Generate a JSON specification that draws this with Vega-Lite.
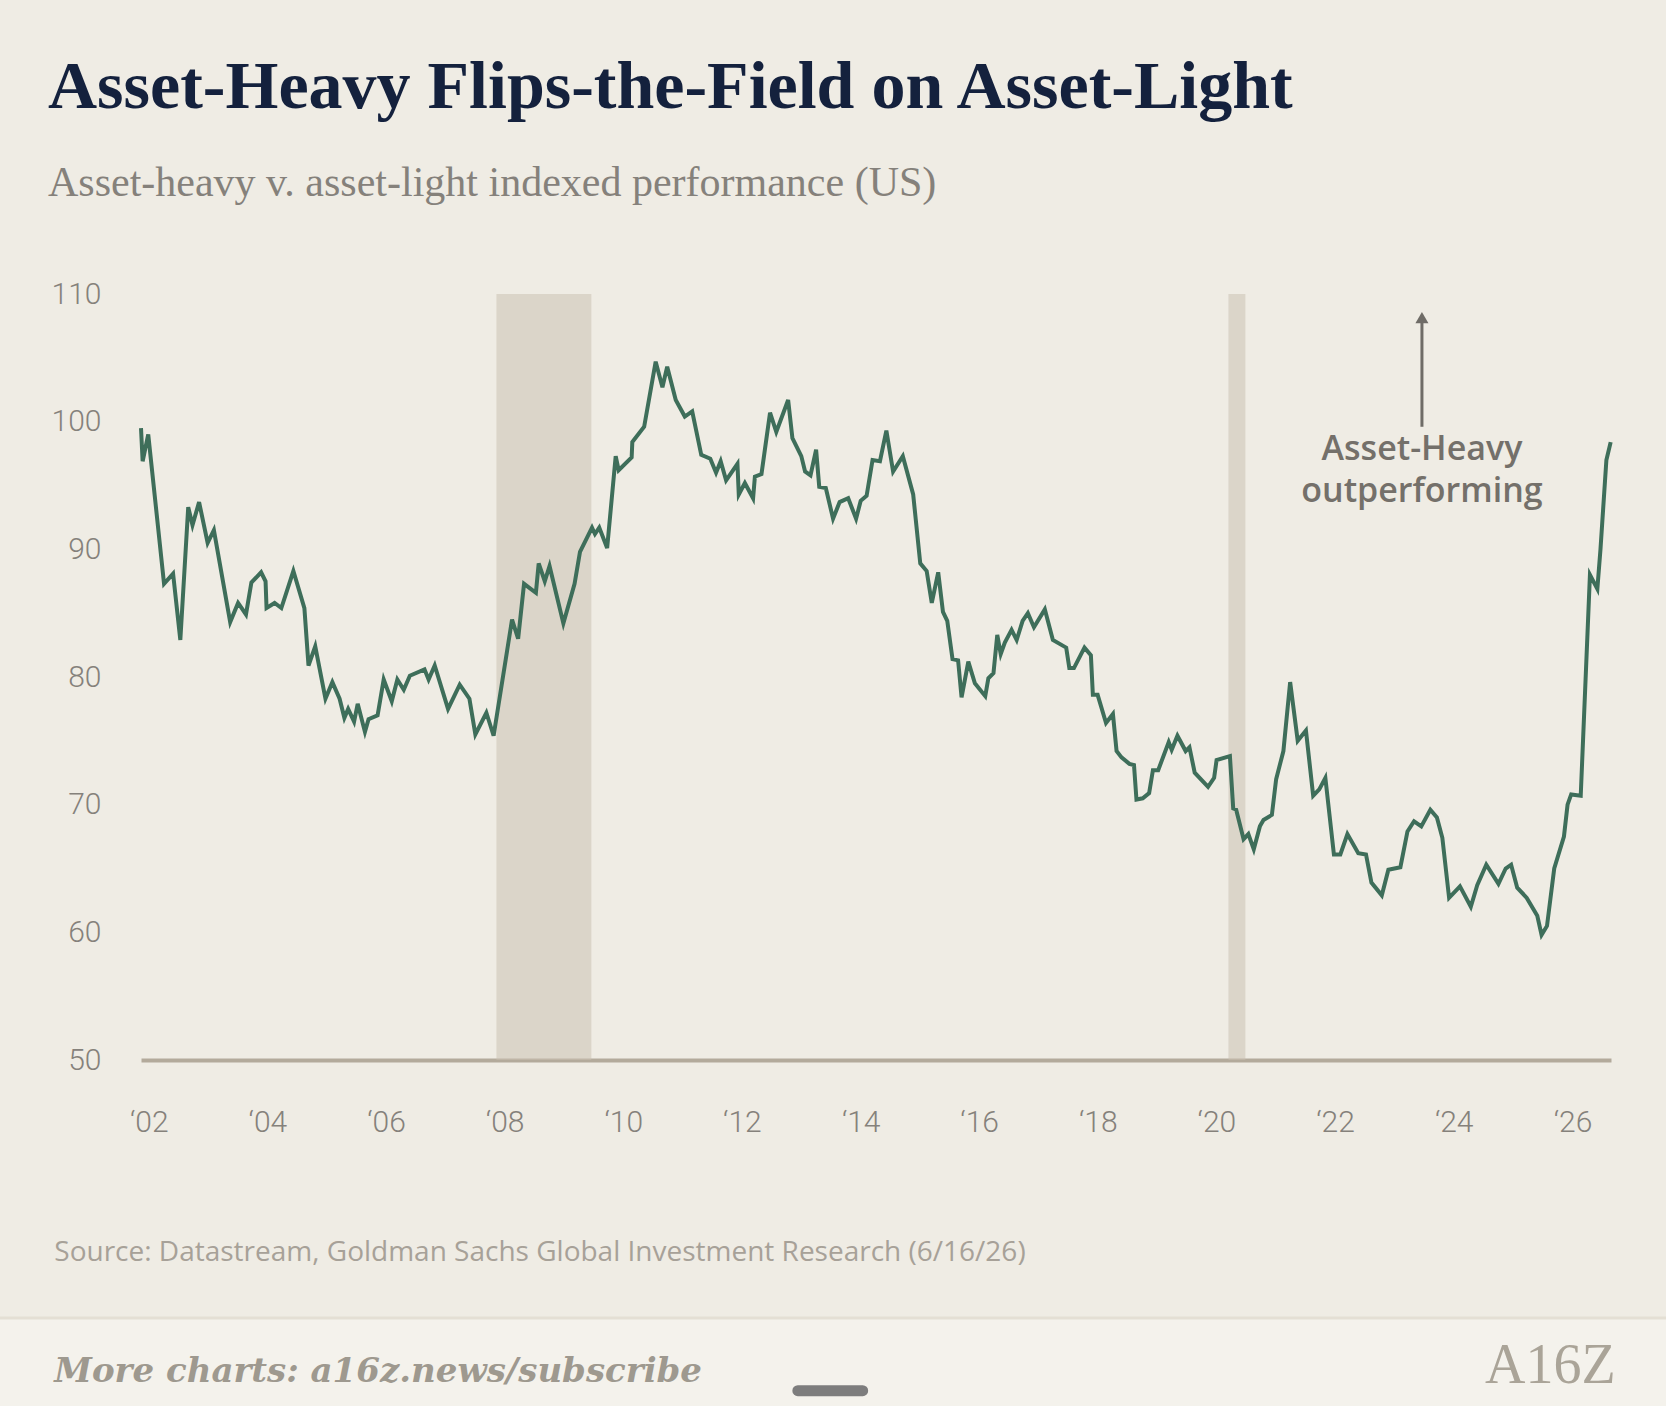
{
  "$schema": "https://vega.github.io/schema/vega-lite/v6.json",
  "description": "Asset-heavy v. asset-light indexed performance (US)",
  "width": 1470,
  "height": 766,
  "autosize": "none",
  "padding": {"left": 141, "top": 294, "right": 55, "bottom": 346},
  "background": "#efece4",
  "title": {
    "text": "Asset-Heavy Flips-the-Field on Asset-Light",
    "subtitle": "Asset-heavy v. asset-light indexed performance (US)",
    "anchor": "start",
    "frame": "group",
    "dx": -93,
    "offset": 75,
    "font": "Liberation Serif",
    "fontSize": 68,
    "fontWeight": "bold",
    "color": "#14213d",
    "subtitleFont": "Liberation Serif",
    "subtitleFontSize": 42,
    "subtitleFontWeight": "normal",
    "subtitleColor": "#85817b",
    "subtitlePadding": 41
  },
  "config": {
    "view": {"stroke": null},
    "axis": {"labelFont": "Roboto", "labelFontWeight": 300, "labelFontSize": 30, "labelColor": "#85817b"}
  },
  "datasets": {
    "series": [
      {"date": "2002-01-01", "value": 99.5},
      {"date": "2002-01-11", "value": 96.9},
      {"date": "2002-02-14", "value": 99.0},
      {"date": "2002-05-21", "value": 87.3},
      {"date": "2002-07-15", "value": 88.1},
      {"date": "2002-08-28", "value": 82.9},
      {"date": "2002-10-15", "value": 93.3},
      {"date": "2002-11-10", "value": 91.9},
      {"date": "2002-12-20", "value": 93.7},
      {"date": "2003-02-10", "value": 90.5},
      {"date": "2003-03-20", "value": 91.5},
      {"date": "2003-06-27", "value": 84.3},
      {"date": "2003-08-14", "value": 85.8},
      {"date": "2003-10-01", "value": 84.9},
      {"date": "2003-11-03", "value": 87.4},
      {"date": "2004-01-01", "value": 88.2},
      {"date": "2004-01-28", "value": 87.5},
      {"date": "2004-02-03", "value": 85.4},
      {"date": "2004-03-23", "value": 85.8},
      {"date": "2004-05-03", "value": 85.4},
      {"date": "2004-07-15", "value": 88.3},
      {"date": "2004-09-20", "value": 85.4},
      {"date": "2004-10-15", "value": 80.9},
      {"date": "2004-11-25", "value": 82.4},
      {"date": "2005-01-26", "value": 78.3},
      {"date": "2005-03-09", "value": 79.6},
      {"date": "2005-04-22", "value": 78.3},
      {"date": "2005-05-21", "value": 76.8},
      {"date": "2005-06-13", "value": 77.5},
      {"date": "2005-07-19", "value": 76.5},
      {"date": "2005-08-10", "value": 77.9},
      {"date": "2005-09-23", "value": 75.7},
      {"date": "2005-10-15", "value": 76.7},
      {"date": "2005-12-09", "value": 77.0},
      {"date": "2006-01-15", "value": 79.8},
      {"date": "2006-03-05", "value": 78.1},
      {"date": "2006-04-08", "value": 79.8},
      {"date": "2006-05-17", "value": 79.0},
      {"date": "2006-06-23", "value": 80.1},
      {"date": "2006-09-20", "value": 80.6},
      {"date": "2006-10-15", "value": 79.8},
      {"date": "2006-11-21", "value": 80.9},
      {"date": "2007-02-10", "value": 77.5},
      {"date": "2007-04-22", "value": 79.4},
      {"date": "2007-06-20", "value": 78.3},
      {"date": "2007-07-26", "value": 75.5},
      {"date": "2007-10-01", "value": 77.2},
      {"date": "2007-11-14", "value": 75.4},
      {"date": "2008-03-05", "value": 84.5},
      {"date": "2008-04-11", "value": 83.0},
      {"date": "2008-05-17", "value": 87.3},
      {"date": "2008-07-28", "value": 86.6},
      {"date": "2008-08-14", "value": 88.9},
      {"date": "2008-09-20", "value": 87.5},
      {"date": "2008-10-19", "value": 88.7},
      {"date": "2009-01-11", "value": 84.2},
      {"date": "2009-03-20", "value": 87.3},
      {"date": "2009-04-22", "value": 89.8},
      {"date": "2009-07-04", "value": 91.7},
      {"date": "2009-07-22", "value": 91.2},
      {"date": "2009-08-17", "value": 91.7},
      {"date": "2009-10-04", "value": 90.1},
      {"date": "2009-11-25", "value": 97.3},
      {"date": "2009-12-13", "value": 96.2},
      {"date": "2010-03-02", "value": 97.2},
      {"date": "2010-03-06", "value": 98.4},
      {"date": "2010-05-17", "value": 99.6},
      {"date": "2010-07-26", "value": 104.7},
      {"date": "2010-09-05", "value": 102.7},
      {"date": "2010-10-04", "value": 104.3},
      {"date": "2010-11-25", "value": 101.7},
      {"date": "2011-01-19", "value": 100.4},
      {"date": "2011-03-05", "value": 100.8},
      {"date": "2011-04-29", "value": 97.4},
      {"date": "2011-06-23", "value": 97.1},
      {"date": "2011-07-28", "value": 96.0},
      {"date": "2011-08-25", "value": 96.9},
      {"date": "2011-09-27", "value": 95.4},
      {"date": "2011-12-05", "value": 96.7},
      {"date": "2011-12-13", "value": 94.3},
      {"date": "2012-01-19", "value": 95.2},
      {"date": "2012-03-09", "value": 94.0},
      {"date": "2012-03-20", "value": 95.7},
      {"date": "2012-04-29", "value": 95.9},
      {"date": "2012-06-20", "value": 100.7},
      {"date": "2012-07-28", "value": 99.2},
      {"date": "2012-10-08", "value": 101.7},
      {"date": "2012-11-03", "value": 98.7},
      {"date": "2012-12-27", "value": 97.3},
      {"date": "2013-01-19", "value": 96.1},
      {"date": "2013-02-21", "value": 95.8},
      {"date": "2013-03-27", "value": 97.8},
      {"date": "2013-04-15", "value": 94.9},
      {"date": "2013-05-25", "value": 94.8},
      {"date": "2013-07-08", "value": 92.4},
      {"date": "2013-08-17", "value": 93.7},
      {"date": "2013-10-08", "value": 94.0},
      {"date": "2013-11-25", "value": 92.4},
      {"date": "2013-12-23", "value": 93.8},
      {"date": "2014-01-28", "value": 94.2},
      {"date": "2014-03-05", "value": 97.0},
      {"date": "2014-04-19", "value": 96.9},
      {"date": "2014-05-28", "value": 99.3},
      {"date": "2014-07-08", "value": 96.1},
      {"date": "2014-09-05", "value": 97.3},
      {"date": "2014-11-07", "value": 94.3},
      {"date": "2014-12-20", "value": 88.9},
      {"date": "2015-01-28", "value": 88.3},
      {"date": "2015-02-28", "value": 85.8},
      {"date": "2015-04-08", "value": 88.2},
      {"date": "2015-05-07", "value": 85.1},
      {"date": "2015-06-02", "value": 84.4},
      {"date": "2015-07-04", "value": 81.4},
      {"date": "2015-08-07", "value": 81.3},
      {"date": "2015-08-28", "value": 78.4},
      {"date": "2015-10-08", "value": 81.2},
      {"date": "2015-11-17", "value": 79.5},
      {"date": "2016-01-19", "value": 78.5},
      {"date": "2016-02-07", "value": 79.9},
      {"date": "2016-03-09", "value": 80.3},
      {"date": "2016-04-01", "value": 83.3},
      {"date": "2016-04-22", "value": 81.8},
      {"date": "2016-05-17", "value": 82.7},
      {"date": "2016-06-27", "value": 83.7},
      {"date": "2016-07-28", "value": 82.9},
      {"date": "2016-09-02", "value": 84.4},
      {"date": "2016-10-04", "value": 85.0},
      {"date": "2016-11-10", "value": 83.9},
      {"date": "2017-01-15", "value": 85.3},
      {"date": "2017-03-05", "value": 82.9},
      {"date": "2017-05-25", "value": 82.3},
      {"date": "2017-06-13", "value": 80.7},
      {"date": "2017-07-11", "value": 80.7},
      {"date": "2017-09-13", "value": 82.3},
      {"date": "2017-10-22", "value": 81.7},
      {"date": "2017-11-03", "value": 78.6},
      {"date": "2017-12-02", "value": 78.6},
      {"date": "2018-01-22", "value": 76.4},
      {"date": "2018-03-05", "value": 77.1},
      {"date": "2018-03-27", "value": 74.2},
      {"date": "2018-04-26", "value": 73.7},
      {"date": "2018-06-13", "value": 73.2},
      {"date": "2018-07-11", "value": 73.1},
      {"date": "2018-07-26", "value": 70.4},
      {"date": "2018-09-02", "value": 70.5},
      {"date": "2018-10-11", "value": 70.9},
      {"date": "2018-11-03", "value": 72.7},
      {"date": "2018-12-05", "value": 72.7},
      {"date": "2019-02-07", "value": 74.9},
      {"date": "2019-02-25", "value": 74.3},
      {"date": "2019-04-01", "value": 75.4},
      {"date": "2019-05-21", "value": 74.2},
      {"date": "2019-06-13", "value": 74.5},
      {"date": "2019-07-15", "value": 72.5},
      {"date": "2019-10-04", "value": 71.4},
      {"date": "2019-11-10", "value": 72.1},
      {"date": "2019-11-25", "value": 73.5},
      {"date": "2020-02-14", "value": 73.8},
      {"date": "2020-03-05", "value": 69.7},
      {"date": "2020-03-23", "value": 69.6},
      {"date": "2020-05-07", "value": 67.3},
      {"date": "2020-06-05", "value": 67.7},
      {"date": "2020-07-08", "value": 66.5},
      {"date": "2020-08-14", "value": 68.3},
      {"date": "2020-09-05", "value": 68.8},
      {"date": "2020-10-26", "value": 69.2},
      {"date": "2020-11-21", "value": 72.0},
      {"date": "2021-01-04", "value": 74.2},
      {"date": "2021-02-14", "value": 79.6},
      {"date": "2021-04-01", "value": 75.0},
      {"date": "2021-05-21", "value": 75.8},
      {"date": "2021-07-04", "value": 70.7},
      {"date": "2021-08-10", "value": 71.2},
      {"date": "2021-09-16", "value": 72.1},
      {"date": "2021-11-07", "value": 66.1},
      {"date": "2021-12-16", "value": 66.1},
      {"date": "2022-01-28", "value": 67.7},
      {"date": "2022-04-04", "value": 66.2},
      {"date": "2022-05-21", "value": 66.1},
      {"date": "2022-06-23", "value": 63.9},
      {"date": "2022-08-25", "value": 62.9},
      {"date": "2022-10-04", "value": 64.9},
      {"date": "2022-12-16", "value": 65.1},
      {"date": "2023-01-28", "value": 67.9},
      {"date": "2023-03-09", "value": 68.7},
      {"date": "2023-04-22", "value": 68.3},
      {"date": "2023-06-16", "value": 69.6},
      {"date": "2023-07-26", "value": 69.0},
      {"date": "2023-08-28", "value": 67.4},
      {"date": "2023-10-08", "value": 62.7},
      {"date": "2023-12-13", "value": 63.6},
      {"date": "2024-02-17", "value": 62.0},
      {"date": "2024-03-27", "value": 63.7},
      {"date": "2024-05-21", "value": 65.3},
      {"date": "2024-08-03", "value": 63.8},
      {"date": "2024-09-16", "value": 65.0},
      {"date": "2024-10-19", "value": 65.3},
      {"date": "2024-11-25", "value": 63.5},
      {"date": "2025-01-22", "value": 62.7},
      {"date": "2025-03-27", "value": 61.3},
      {"date": "2025-04-22", "value": 59.8},
      {"date": "2025-05-25", "value": 60.5},
      {"date": "2025-07-08", "value": 65.0},
      {"date": "2025-09-05", "value": 67.5},
      {"date": "2025-09-27", "value": 70.0},
      {"date": "2025-10-19", "value": 70.8},
      {"date": "2025-12-16", "value": 70.7},
      {"date": "2026-02-10", "value": 88.0},
      {"date": "2026-03-27", "value": 86.9},
      {"date": "2026-04-15", "value": 90.0},
      {"date": "2026-05-21", "value": 97.0},
      {"date": "2026-06-16", "value": 98.4}
    ],
    "recessions": [
      {"start": "2007-12-01", "end": "2009-06-30"},
      {"start": "2020-02-05", "end": "2020-05-18"}
    ],
    "one": [{}]
  },
  "layer": [
    {
      "data": {"name": "one"},
      "mark": {"type": "rect", "fill": "#f4f2ec"},
      "encoding": {
        "x": {"datum": {"year": 1999, "month": 1, "date": 1}, "type": "temporal"},
        "x2": {"datum": {"year": 2028, "month": 1, "date": 1}},
        "y": {"datum": 29.8, "type": "quantitative"},
        "y2": {"datum": 15}
      }
    },
    {
      "data": {"name": "one"},
      "mark": {"type": "rule", "stroke": "#e4dfd4", "strokeWidth": 3},
      "encoding": {
        "x": {"datum": {"year": 1999, "month": 1, "date": 1}, "type": "temporal"},
        "x2": {"datum": {"year": 2028, "month": 1, "date": 1}},
        "y": {"datum": 29.8, "type": "quantitative"}
      }
    },
    {
      "data": {"name": "recessions"},
      "mark": {"type": "rect", "fill": "#c9c0b1", "opacity": 0.52},
      "encoding": {
        "x": {"field": "start", "type": "temporal"},
        "x2": {"field": "end"},
        "y": {"datum": 110, "type": "quantitative"},
        "y2": {"datum": 50}
      }
    },
    {
      "data": {"name": "series"},
      "mark": {"type": "line", "stroke": "#3e6e5a", "strokeWidth": 4, "strokeJoin": "miter"},
      "encoding": {
        "x": {
          "field": "date",
          "type": "temporal",
          "scale": {"domain": [{"year": 2002, "month": 1, "date": 1}, {"year": 2026, "month": 6, "date": 18}]},
          "axis": {
            "title": null,
            "values": [
              {"year": 2002, "month": 2, "date": 17}, {"year": 2004, "month": 2, "date": 8},
              {"year": 2006, "month": 1, "date": 29}, {"year": 2008, "month": 1, "date": 20},
              {"year": 2010, "month": 1, "date": 10}, {"year": 2012, "month": 1, "date": 1},
              {"year": 2013, "month": 12, "date": 23}, {"year": 2015, "month": 12, "date": 13},
              {"year": 2017, "month": 12, "date": 3}, {"year": 2019, "month": 11, "date": 24},
              {"year": 2021, "month": 11, "date": 14}, {"year": 2023, "month": 11, "date": 5},
              {"year": 2025, "month": 10, "date": 27}
            ],
            "labelExpr": "'\u2018' + timeFormat(timeOffset('month', datum.value, 3), '%y')",
            "labelFlush": false,
            "labelOverlap": false,
            "grid": false,
            "ticks": false,
            "domainColor": "#b3aa9b",
            "domainWidth": 4,
            "labelPadding": 47,
            "labelFontSize": 30
          }
        },
        "y": {
          "field": "value",
          "type": "quantitative",
          "scale": {"domain": [50, 110], "nice": false, "zero": false},
          "axis": {
            "title": null,
            "values": [50, 60, 70, 80, 90, 100, 110],
            "domain": false,
            "ticks": false,
            "gridColor": "#e1dbca",
            "gridWidth": 2,
            "labelPadding": 40
          }
        }
      }
    },
    {
      "data": {"name": "one"},
      "mark": {"type": "rule", "stroke": "#6f6c67", "strokeWidth": 3},
      "encoding": {
        "x": {"datum": {"year": 2023, "month": 4, "date": 26}, "type": "temporal"},
        "y": {"datum": 99.6, "type": "quantitative"},
        "y2": {"datum": 108.0}
      }
    },
    {
      "data": {"name": "one"},
      "mark": {"type": "point", "shape": "triangle-up", "filled": true, "fill": "#6f6c67", "size": 170, "opacity": 1},
      "encoding": {
        "x": {"datum": {"year": 2023, "month": 4, "date": 26}, "type": "temporal"},
        "y": {"datum": 108.15, "type": "quantitative"}
      }
    },
    {
      "data": {"name": "one"},
      "mark": {"type": "text", "font": "Open Sans", "fontSize": 34, "fontWeight": 600, "color": "#74706a", "align": "center", "baseline": "middle", "lineHeight": 42},
      "encoding": {
        "x": {"datum": {"year": 2023, "month": 4, "date": 26}, "type": "temporal"},
        "y": {"datum": 97.8, "type": "quantitative"},
        "text": {"value": ["Asset-Heavy", "outperforming"]}
      }
    },
    {
      "data": {"name": "one"},
      "mark": {"type": "text", "font": "Open Sans", "fontSize": 28, "color": "#a7a198", "align": "left", "baseline": "middle"},
      "encoding": {
        "x": {"datum": {"year": 2000, "month": 7, "date": 23}, "type": "temporal"},
        "y": {"datum": 34.9, "type": "quantitative"},
        "text": {"value": "Source: Datastream, Goldman Sachs Global Investment Research (6/16/26)"}
      }
    },
    {
      "data": {"name": "one"},
      "mark": {"type": "text", "font": "DejaVu Serif", "fontSize": 34, "fontStyle": "italic", "fontWeight": "bold", "color": "#9e998f", "align": "left", "baseline": "middle"},
      "encoding": {
        "x": {"datum": {"year": 2000, "month": 7, "date": 23}, "type": "temporal"},
        "y": {"datum": 25.6, "type": "quantitative"},
        "text": {"value": "More charts: a16z.news/subscribe"}
      }
    },
    {
      "data": {"name": "one"},
      "mark": {"type": "text", "font": "Liberation Serif", "fontSize": 56, "color": "#aaa498", "align": "right", "baseline": "middle"},
      "encoding": {
        "x": {"datum": {"year": 2026, "month": 7, "date": 16}, "type": "temporal"},
        "y": {"datum": 26.0, "type": "quantitative"},
        "text": {"value": "A16Z"}
      }
    },
    {
      "data": {"name": "one"},
      "mark": {"type": "rule", "stroke": "#7d7d7d", "strokeWidth": 11, "strokeCap": "round"},
      "encoding": {
        "x": {"datum": {"year": 2012, "month": 12, "date": 6}, "type": "temporal"},
        "x2": {"datum": {"year": 2014, "month": 1, "date": 4}},
        "y": {"datum": 24.1, "type": "quantitative"}
      }
    }
  ]
}
